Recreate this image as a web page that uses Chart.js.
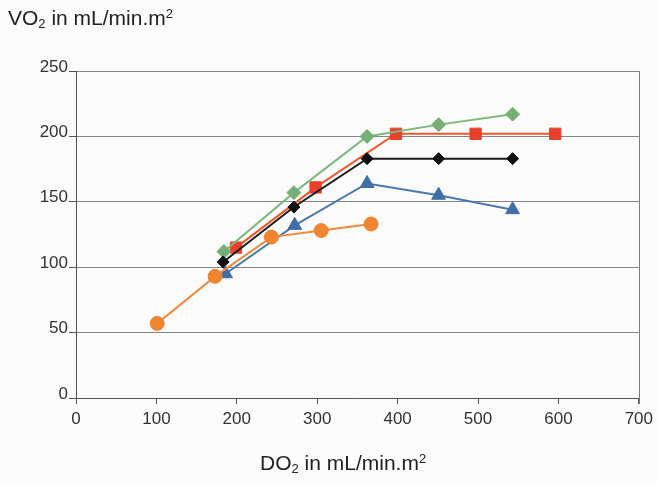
<!DOCTYPE html>
<html>
<head>
<meta charset="utf-8">
<script src="https://cdn.jsdelivr.net/npm/chart.js@4/dist/chart.umd.min.js"></script>
<style>
  html, body { margin: 0; padding: 0; background: #fbfbfb; }
  #wrap { position: relative; width: 658px; height: 483px; font-family: "Liberation Sans", Arial, sans-serif; color: #222; }
  #c { position: absolute; left: 0; top: 0; }
  .ttl { position: absolute; font-size: 21px; white-space: nowrap; line-height: 1; }
  .ttl sub { font-size: 0.62em; vertical-align: -0.25em; }
  .ttl sup { font-size: 0.62em; vertical-align: 0.55em; }
</style>
</head>
<body>
<div id="wrap">
  <canvas id="c" width="658" height="483"></canvas>
  <div class="ttl" style="left:8px; top:7px;">VO<sub>2</sub> in mL/min.m<sup>2</sup></div>
  <div class="ttl" style="left:260px; top:452px;">DO<sub>2</sub> in mL/min.m<sup>2</sup></div>
</div>
<script>
// Oxygen delivery (DO2) vs oxygen consumption (VO2), five curves
const xTicks = [0, 100, 200, 300, 400, 500, 600, 700];
const yTicks = [0, 50, 100, 150, 200, 250];

const orangeDO2 = [101, 173, 243, 305, 367];
const orangeVO2 = [57, 93, 123, 128, 133];

const blueDO2 = [186, 272, 362, 451, 543];
const blueVO2 = [95, 132, 164, 155, 144];

const blackDO2 = [183, 271, 362, 451, 543];
const blackVO2 = [104, 146, 183, 183, 183];

const greenDO2 = [184, 271, 362, 451, 543];
const greenVO2 = [112, 157, 200, 209, 217];

const redDO2 = [199, 298, 398, 497, 596];
const redVO2 = [115, 161, 202, 202, 202];

function pts(xs, ys) { return xs.map((x, i) => ({ x: x, y: ys[i] })); }

function series(xs, ys, line, fill, style, radius) {
  return {
    data: pts(xs, ys),
    showLine: true,
    borderColor: line,
    borderWidth: 2,
    backgroundColor: fill,
    pointBackgroundColor: fill,
    pointBorderColor: fill,
    pointBorderWidth: 1,
    pointStyle: style,
    pointRadius: radius,
    pointHoverRadius: radius,
    tension: 0
  };
}

// right-hand frame line of the plot area
const frame = {
  id: 'frame',
  afterDraw(chart) {
    const a = chart.chartArea, ctx = chart.ctx;
    ctx.save();
    ctx.strokeStyle = '#7a7a7a';
    ctx.lineWidth = 1;
    ctx.beginPath();
    ctx.moveTo(Math.round(a.right) + 0.5, a.top);
    ctx.lineTo(Math.round(a.right) + 0.5, a.bottom + 6);
    ctx.stroke();
    ctx.restore();
  }
};

new Chart(document.getElementById('c'), {
  type: 'scatter',
  data: {
    datasets: [
      series(orangeDO2, orangeVO2, '#ef8a3c', '#ef8530', 'circle', 7),
      series(blueDO2, blueVO2, '#4a78b0', '#3f6ea8', 'triangle', 8),
      series(blackDO2, blackVO2, '#1c1c1c', '#111111', 'rectRot', 6),
      series(greenDO2, greenVO2, '#7db87d', '#76b076', 'rectRot', 7),
      series(redDO2, redVO2, '#ec5a2c', '#e8402a', 'rect', 8)
    ]
  },
  options: {
    responsive: false,
    animation: false,
    events: [],
    layout: { autoPadding: false, padding: { top: 71, right: 15, left: 0, bottom: 0 } },
    plugins: { legend: { display: false }, tooltip: { enabled: false } },
    scales: {
      x: {
        type: 'linear',
        min: xTicks[0],
        max: xTicks[xTicks.length - 1],
        afterBuildTicks(scale) { scale.ticks = xTicks.map(v => ({ value: v })); },
        afterFit(scale) { scale.height = 85; },
        grid: { drawOnChartArea: false, tickLength: 6, tickColor: '#555', color: '#555' },
        border: { color: '#555', width: 1 },
        ticks: { color: '#333', padding: 5, font: { family: 'Liberation Sans', size: 17 } }
      },
      y: {
        type: 'linear',
        min: yTicks[0],
        max: yTicks[yTicks.length - 1],
        afterBuildTicks(scale) { scale.ticks = yTicks.map(v => ({ value: v })); },
        afterFit(scale) { scale.width = 76; },
        grid: { color: '#858585', tickLength: 7, tickColor: '#555', lineWidth: 1 },
        border: { color: '#555', width: 1 },
        ticks: { color: '#333', padding: 1, labelOffset: -4, font: { family: 'Liberation Sans', size: 17 } }
      }
    }
  },
  plugins: [frame]
});
</script>
</body>
</html>
